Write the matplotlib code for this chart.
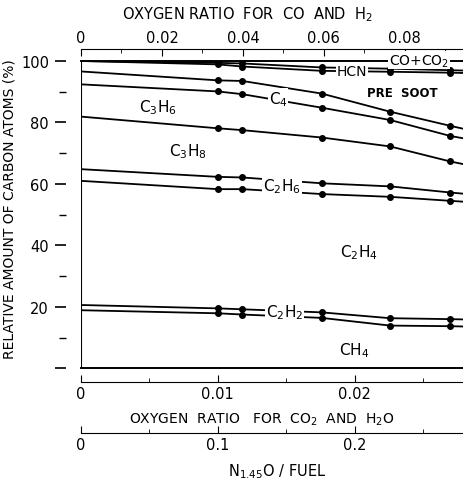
import matplotlib
matplotlib.use("Agg")
import matplotlib.pyplot as plt
from matplotlib.ticker import FixedLocator, FuncFormatter

# N1.45O / fuel based oxygen ratio (CO2 + H2O basis) at the sample points
xs = [0, 0.0100, 0.0118, 0.0176, 0.0226, 0.0270, 0.0280]

# cumulative boundaries between species (%)
co_line = [100, 99.4, 99.2, 97.9, 97.5, 97.0, 96.9]
hcn_line = [100, 98.9, 98.2, 96.8, 96.5, 96.2, 96.1]
presoot_line = [96.6, 93.7, 93.5, 89.4, 83.5, 78.9, 77.9]
c4_line = [92.4, 90.1, 89.2, 84.8, 80.8, 75.6, 74.8]
c3h6_line = [81.9, 78.1, 77.5, 75.1, 72.2, 67.3, 66.4]
c3h8_line = [64.8, 62.3, 62.1, 60.2, 59.2, 57.2, 56.8]
c2h6_line = [61.0, 58.3, 58.3, 56.7, 55.8, 54.5, 54.2]
c2h4_line = [20.6, 19.5, 19.2, 18.2, 16.3, 16.0, 15.9]
c2h2_line = [18.9, 17.9, 17.5, 16.4, 13.9, 13.7, 13.6]

co_factor = 3.38      # oxygen ratio for CO and H2 vs CO2 and H2O
fuel_factor = 10.0    # N1.45O/fuel vs CO2 and H2O

fig = plt.figure(figsize=(4.64, 4.81), dpi=100)
ax = fig.add_axes([81/464, 1-369.3/481, 383/464, 307.3/481])
ax.set_xlim(0, 0.028)
ax.set_ylim(0, 100)

lines = [co_line, hcn_line, presoot_line, c4_line, c3h6_line,
         c3h8_line, c2h6_line, c2h4_line, c2h2_line]
for ys in lines:
    ax.plot(xs, ys, color='k', lw=1.3, marker='o', ms=4.0,
            markevery=[1, 2, 3, 4, 5], zorder=2)

# frame
ax.spines['right'].set_visible(False)
ax.spines['top'].set_linewidth(1.4)
ax.spines['bottom'].set_linewidth(1.4)
ax.spines['left'].set_position(('outward', 11))
ax.spines['left'].set_visible(False)
ax.axvline(0, color='k', lw=1.5, zorder=3)
ax.set_xticks([])

ax.yaxis.set_major_locator(FixedLocator([0, 20, 40, 60, 80, 100]))
ax.yaxis.set_minor_locator(FixedLocator([10, 30, 50, 70, 90]))
ax.yaxis.set_major_formatter(FuncFormatter(lambda v, p: '' if v == 0 else '%d' % v))
ax.tick_params(axis='y', which='major', length=8, width=1.2, labelsize=10.5, pad=4)
ax.tick_params(axis='y', which='minor', length=5, width=1.0)
ax.set_ylabel('RELATIVE AMOUNT OF CARBON ATOMS (%)', fontsize=10)
ax.yaxis.set_label_coords(-0.168, 0.52)

# species labels
box = dict(facecolor='white', edgecolor='none', pad=0.6)
ax.text(0.0247, 100.2, 'CO+CO$_2$', fontsize=10, ha='center', va='center', bbox=box, zorder=4)
ax.text(0.0198, 96.6, 'HCN', fontsize=10, ha='center', va='center', bbox=box, zorder=4)
ax.text(0.0235, 89.7, 'PRE  SOOT', fontsize=8.5, fontweight='bold', ha='center', va='center')
ax.text(0.0144, 87.8, 'C$_4$', fontsize=11, ha='center', va='center', bbox=box, zorder=4)
ax.text(0.0056, 85.3, 'C$_3$H$_6$', fontsize=11, ha='center', va='center')
ax.text(0.0078, 70.7, 'C$_3$H$_8$', fontsize=11, ha='center', va='center')
ax.text(0.0147, 59.3, 'C$_2$H$_6$', fontsize=11, ha='center', va='center', bbox=box, zorder=4)
ax.text(0.0203, 37.9, 'C$_2$H$_4$', fontsize=11, ha='center', va='center')
ax.text(0.0149, 18.3, 'C$_2$H$_2$', fontsize=11, ha='center', va='center', bbox=box, zorder=4)
ax.text(0.0200, 6.0, 'CH$_4$', fontsize=11, ha='center', va='center')

fmt = FuncFormatter(lambda v, p: '0' if v == 0 else '%g' % v)

# top scale: oxygen ratio for CO and H2
top = ax.secondary_xaxis((369.3-50)/307.3,
                         functions=(lambda x: x*co_factor, lambda x: x/co_factor))
top.xaxis.set_major_locator(FixedLocator([0, 0.02, 0.04, 0.06, 0.08]))
top.xaxis.set_minor_locator(FixedLocator([0.01, 0.03, 0.05, 0.07, 0.09]))
top.xaxis.set_major_formatter(fmt)
top.tick_params(which='major', direction='in', length=5, width=0.8, labelsize=10.5, pad=3)
top.tick_params(which='minor', direction='in', length=3, width=0.6)
top.spines['top'].set_linewidth(0.8)

# bottom scale: oxygen ratio for CO2 and H2O
bot = ax.secondary_xaxis(-(383.3-369.3)/307.3)
bot.xaxis.set_major_locator(FixedLocator([0, 0.01, 0.02]))
bot.xaxis.set_minor_locator(FixedLocator([0.005, 0.015, 0.025]))
bot.xaxis.set_major_formatter(fmt)
bot.tick_params(which='major', direction='in', length=5, width=0.8, labelsize=10.5, pad=3)
bot.tick_params(which='minor', direction='in', length=3, width=0.6)
bot.spines['bottom'].set_linewidth(0.8)

# lowest scale: N1.45O / fuel
fuel = ax.secondary_xaxis(-(434.3-369.3)/307.3,
                          functions=(lambda x: x*fuel_factor, lambda x: x/fuel_factor))
fuel.xaxis.set_major_locator(FixedLocator([0, 0.1, 0.2]))
fuel.xaxis.set_minor_locator(FixedLocator([0.05, 0.15, 0.25]))
fuel.xaxis.set_major_formatter(fmt)
fuel.tick_params(which='major', direction='in', length=5, width=0.8, labelsize=10.5, pad=3)
fuel.tick_params(which='minor', direction='in', length=3, width=0.6)
fuel.spines['bottom'].set_linewidth(0.8)

fig.text(248/464, 1-15/481, 'OXYGEN RATIO  FOR  CO  AND  H$_2$',
         fontsize=10.5, ha='center', va='center')
fig.text(262/464, 1-420/481, 'OXYGEN  RATIO   FOR  CO$_2$  AND  H$_2$O',
         fontsize=10, ha='center', va='center')
fig.text(277/464, 1-472/481, 'N$_{1.45}$O / FUEL',
         fontsize=10.5, ha='center', va='center')

fig.savefig('out.png', dpi=100)
